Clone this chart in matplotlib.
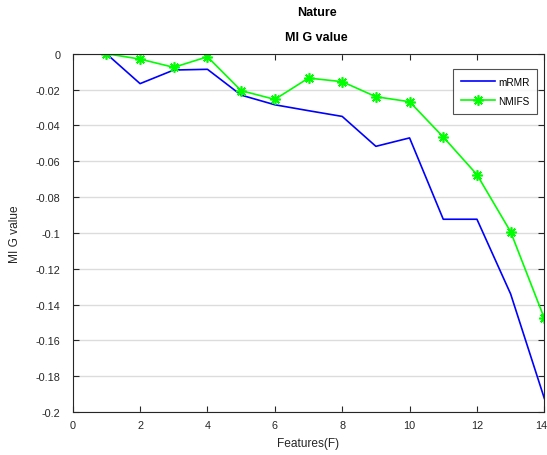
import matplotlib
matplotlib.use("Agg")
import matplotlib.pyplot as plt
from matplotlib.transforms import ScaledTranslation

plt.rcParams['font.family'] = ['Liberation Sans', 'DejaVu Sans']
plt.rcParams['axes.unicode_minus'] = False

features = [1, 2, 3, 4, 5, 6, 7, 8, 9, 10, 11, 12, 13, 14]
mrmr = [0, -0.0167, -0.0091, -0.0087, -0.0231, -0.0285, -0.0318, -0.0350,
        -0.0517, -0.0470, -0.0924, -0.0924, -0.1341, -0.1924]
nmifs = [0, -0.0030, -0.0076, -0.0017, -0.0206, -0.0255, -0.0136, -0.0156,
         -0.0240, -0.0268, -0.0465, -0.0675, -0.0994, -0.1477]

xticks = [0, 2, 4, 6, 8, 10, 12, 14]
yticks = [0, -0.02, -0.04, -0.06, -0.08, -0.1, -0.12, -0.14, -0.16, -0.18, -0.2]
ytick_labels = ['0', '-0.02', '-0.04', '-0.06', '-0.08', '-0.1', '-0.12',
                '-0.14', '-0.16', '-0.18', '-0.2']

fig = plt.figure(figsize=(5.47, 4.56), dpi=100)
ax = fig.add_axes([0.1329, 0.0943, 0.8622, 0.7857])

ax.plot(features, mrmr, color='#0000ff', lw=1.2, label='mRMR')
ax.plot(features, nmifs, color='#00ff00', lw=1.2, marker=(8, 2, 0), ms=7.5,
        mew=1.2, mec='#00ff00', mfc='#00ff00', label='NMIFS')

ax.set_xlim(0, 14)
ax.set_ylim(-0.2, 0)
ax.set_xticks(xticks)
ax.set_xticklabels([str(v) for v in xticks])
ax.set_yticks(yticks)
ax.set_yticklabels(ytick_labels)
ax.yaxis.grid(True, color='#dcdcdc', lw=1)
ax.set_axisbelow(True)
ax.tick_params(direction='in', top=True, right=True, length=4, width=0.8,
               labelsize=7.8, colors='#262626')
ax.tick_params(axis='y', pad=9)
ax.tick_params(axis='x', pad=6)
for s in ax.spines.values():
    s.set_color('#262626')
    s.set_linewidth(0.8)

last = ax.get_xticklabels()[-1]
last.set_transform(last.get_transform() + ScaledTranslation(-3 / 100, 0, fig.dpi_scale_trans))

ax.set_xlabel('Features(F)', fontsize=8.6, color='#262626', labelpad=5)
ax.set_ylabel('MI G value', fontsize=8.6, color='#262626', labelpad=10)

fig.text(0.5785, 1 - 13 / 456, 'Nature', ha='center', va='center',
         fontsize=9, fontweight='bold')
fig.text(0.5785, 1 - 38 / 456, 'MI G value', ha='center', va='center',
         fontsize=9, fontweight='bold')

leg = ax.legend(loc='upper right', bbox_to_anchor=(0.985, 0.958), fontsize=7.2,
                frameon=True, fancybox=False, edgecolor='#262626',
                handlelength=3.4, borderpad=0.8, labelspacing=0.9,
                handletextpad=0.3, borderaxespad=0)
leg.get_frame().set_linewidth(0.8)

fig.savefig('out.png', dpi=100)
